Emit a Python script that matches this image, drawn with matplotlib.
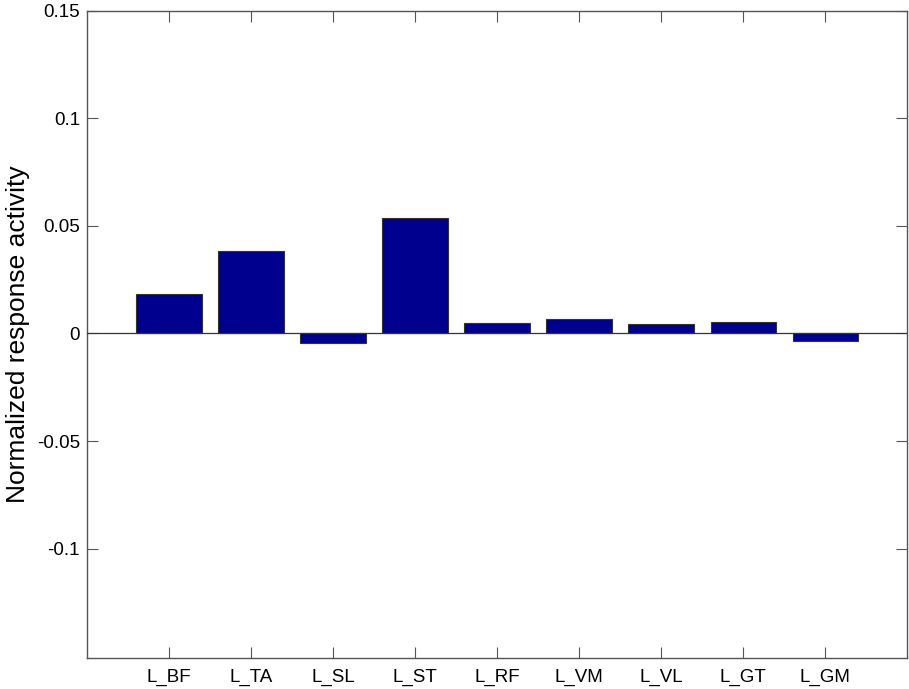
import matplotlib
matplotlib.use('Agg')
import matplotlib.pyplot as plt

plt.rcParams['font.family'] = ['Liberation Sans', 'DejaVu Sans']

muscles = ['L_BF', 'L_TA', 'L_SL', 'L_ST', 'L_RF', 'L_VM', 'L_VL', 'L_GT', 'L_GM']
activity = [0.0184, 0.0384, -0.0042, 0.0537, 0.0050, 0.0068, 0.0045, 0.0054, -0.0036]
yticks = [-0.1, -0.05, 0, 0.05, 0.1, 0.15]
ytick_labels = ['-0.1', '-0.05', '0', '0.05', '0.1', '0.15']

fig = plt.figure(figsize=(9.09, 6.89), dpi=100)
ax = fig.add_axes([0.0957, 0.045, 0.9026, 0.9395])

pos = list(range(1, len(muscles) + 1))
ax.bar(pos, activity, width=0.8, color='#00008f', edgecolor='#333333', linewidth=0.8, zorder=2)
# baseline across the full width
ax.axhline(0, color='#333333', linewidth=0.9, zorder=3)

ax.set_xlim(0, 10)
ax.set_ylim(-0.1508, 0.15)
ax.set_xticks(pos)
ax.set_xticklabels(muscles)
ax.set_yticks(yticks)
ax.set_yticklabels(ytick_labels)
ax.tick_params(direction='in', length=8, width=0.8, color='#555555',
               labelsize=13.5, pad=5, top=True, right=True)
ax.tick_params(axis='x', pad=7.5)
for s in ax.spines.values():
    s.set_color('#555555')
    s.set_linewidth(1.0)

ax.set_ylabel('Normalized response activity', fontsize=19, labelpad=5)

fig.savefig('out.png', dpi=100)
